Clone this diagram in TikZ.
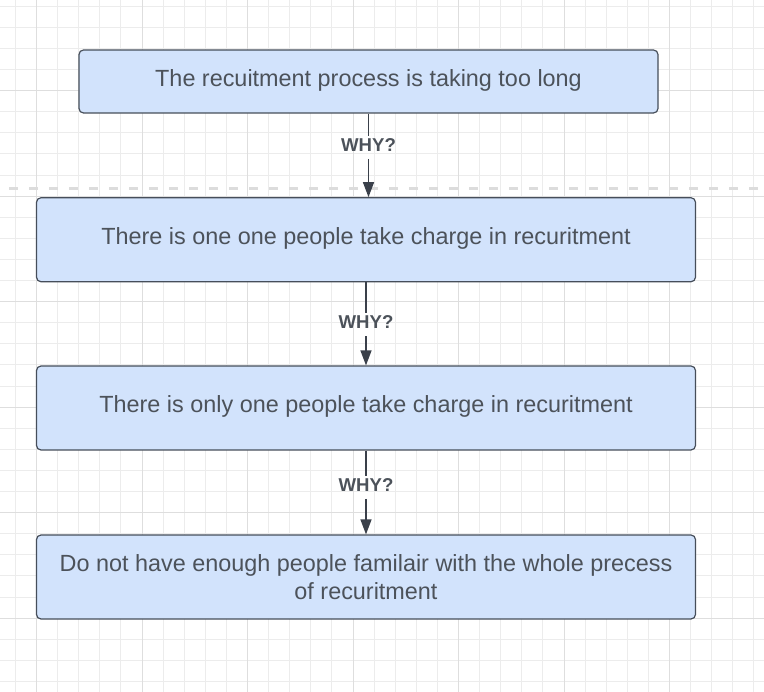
\documentclass[tikz,border=0pt]{standalone}
\usepackage{fontspec}
\setmainfont{Liberation Sans}
\usetikzlibrary{arrows.meta}

\definecolor{gridminor}{RGB}{236,236,236}
\definecolor{gridmajor}{RGB}{222,222,222}
\definecolor{pagebreak}{RGB}{220,220,220}
\definecolor{boxfill}{RGB}{210,227,252}
\definecolor{boxline}{RGB}{70,78,90}
\definecolor{txt}{RGB}{76,82,90}
\definecolor{wire}{RGB}{58,64,74}

\begin{document}
\begin{tikzpicture}[x=1pt,y=-1pt,
  whybox/.style={draw=boxline, line width=1.2pt, fill=boxfill,
    rounded corners=4.5pt, minimum width=659pt, minimum height=84pt,
    inner sep=0pt, text=txt, font=\fontsize{23.4}{28.4}\selectfont,
    align=center, text height=16.6pt, text depth=7pt},
  whylabel/.style={text=txt, font=\bfseries\fontsize{18.6}{20}\selectfont,
    inner xsep=2pt, inner ysep=2pt, anchor=base,
    text height=13.3pt, text depth=5pt},
  link/.style={draw=wire, line width=1.3pt},
  linkarrow/.style={-{Triangle[length=15pt,width=11pt]}}
]
\useasboundingbox (0,0) rectangle (764,692);
\fill[white] (0,0) rectangle (764,692);

% background grid: fine lines, with every fifth line darker
\foreach \i in {0,...,35}
  \draw[gridminor, line width=1pt] ({15.4+21.1*\i},0) -- ({15.4+21.1*\i},692);
\foreach \j in {1,...,33}
  \draw[gridminor, line width=1pt] (0,{-14.8+21.1*\j}) -- (764,{-14.8+21.1*\j});
\foreach \i in {0,...,6}
  \draw[gridmajor, line width=1pt] ({36.5+105.5*\i},0) -- ({36.5+105.5*\i},692);
\foreach \j in {1,...,6}
  \draw[gridmajor, line width=1pt] (0,{-14.8+105.5*\j}) -- (764,{-14.8+105.5*\j});

% page break marker
\draw[pagebreak, line width=3pt, dash pattern=on 9pt off 11pt] (9,188.3) -- (764,188.3);

% the chain of causes
\node[whybox, minimum width=579pt, minimum height=63pt] (b1) at (368.5,81.5)
  {The recuitment process is taking too long};
\node[whybox] (b2) at (366,239.75)
  {There is one one people take charge in recuritment};
\node[whybox] (b3) at (366,408)
  {There is only one people take charge in recuritment};
\node[whybox, text height=, text depth=] (b4) at (366,577)
  {Do not have enough people familair with the whole precess\\of recuritment};

% connectors with their labels
\node[whylabel] (w1) at (368.5,151.7) {WHY?};
\node[whylabel] (w2) at (366,329) {WHY?};
\node[whylabel] (w3) at (366,491.7) {WHY?};

\draw[link] (b1.south) -- (w1.north);
\draw[link, linkarrow] (w1.south) -- (w1.south |- b2.north);
\draw[link] (b2.south) -- (w2.north);
\draw[link, linkarrow] (w2.south) -- (b3.north);
\draw[link] (b3.south) -- (w3.north);
\draw[link, linkarrow] (w3.south) -- (b4.north);
\end{tikzpicture}
\end{document}
